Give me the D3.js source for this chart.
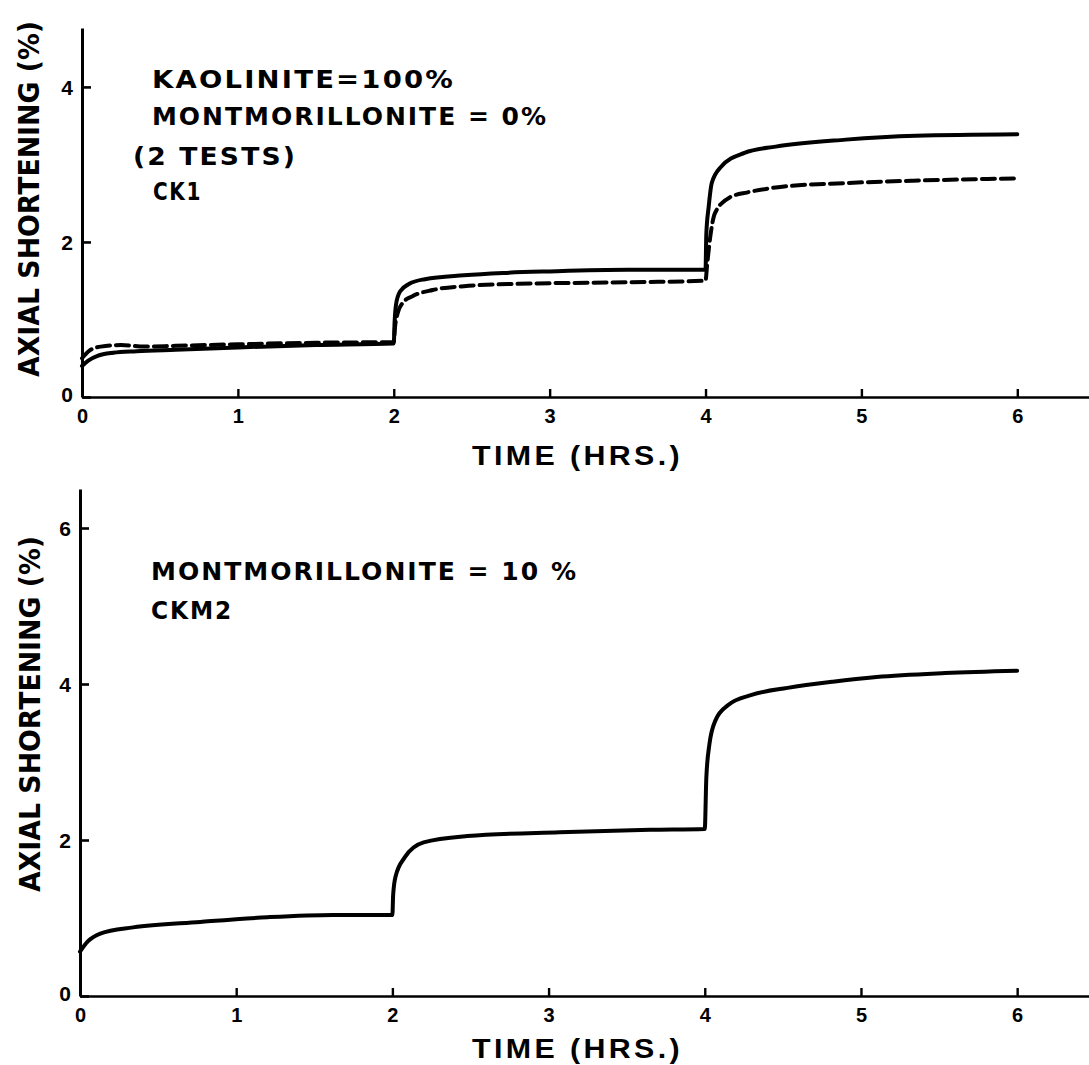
<!DOCTYPE html>
<html>
<head>
<meta charset="utf-8">
<script src="https://cdn.jsdelivr.net/npm/d3@7"></script>
<style>
  html, body { margin: 0; padding: 0; background: #fff; }
  svg { display: block; }
  text { font-family: "DejaVu Sans", "Liberation Sans", Arial, sans-serif; font-weight: bold; fill: #000; }
</style>
</head>
<body>
<svg id="chart" width="1089" height="1065"></svg>
<script>
// Time axis ticks (hours) and shortening ticks (%)
const timeTicks = [0, 1, 2, 3, 4, 5, 6];
const topShortTicks = [0, 2, 4];
const bottomShortTicks = [0, 2, 4, 6];

// CK1, test A (solid line): time (hrs) and axial shortening (%)
const ck1aTime = [0, 0.04, 0.1, 0.2, 0.35, 0.6, 1.0, 1.5, 2.0,
  2.005, 2.015, 2.04, 2.1, 2.2, 2.45, 2.7, 3.0, 3.5, 4.0,
  4.005, 4.02, 4.04, 4.1, 4.25, 4.45, 4.9, 5.35, 6.0];
const ck1aShortening = [0.40, 0.47, 0.53, 0.57, 0.59, 0.61, 0.64, 0.67, 0.69,
  0.95, 1.20, 1.36, 1.46, 1.52, 1.57, 1.60, 1.62, 1.64, 1.64,
  2.10, 2.45, 2.76, 2.97, 3.15, 3.23, 3.32, 3.37, 3.39];

// CK1, test B (dashed line)
const ck1bTime = [0, 0.05, 0.12, 0.25, 0.4, 0.6, 1.0, 1.5, 2.0,
  2.008, 2.025, 2.06, 2.12, 2.25, 2.45, 2.8, 3.5, 4.0,
  4.01, 4.03, 4.06, 4.16, 4.27, 4.48, 4.9, 5.33, 6.0];
const ck1bShortening = [0.50, 0.60, 0.65, 0.67, 0.65, 0.66, 0.68, 0.70, 0.71,
  0.90, 1.08, 1.22, 1.30, 1.38, 1.43, 1.46, 1.48, 1.50,
  1.70, 2.06, 2.37, 2.58, 2.64, 2.71, 2.76, 2.79, 2.82];

// CKM2 (montmorillonite 10 %)
const ckm2Time = [0, 0.05, 0.13, 0.34, 0.77, 1.2, 1.62, 2.0,
  2.005, 2.02, 2.08, 2.2, 2.48, 3.07, 3.65, 4.0,
  4.01, 4.03, 4.07, 4.15, 4.3, 4.53, 4.82, 5.1, 5.54, 6.0];
const ckm2Shortening = [0.57, 0.70, 0.80, 0.88, 0.95, 1.01, 1.04, 1.04,
  1.30, 1.53, 1.78, 1.97, 2.05, 2.10, 2.13, 2.14,
  2.80, 3.23, 3.54, 3.73, 3.86, 3.95, 4.03, 4.09, 4.14, 4.17];

const svg = d3.select("#chart");

function zip(t, v) { return t.map((d, i) => ({ t: d, v: v[i] })); }

function drawPanel(cfg) {
  const x = d3.scaleLinear().domain([0, 6.46]).range(cfg.xRange);
  const y = d3.scaleLinear().domain([0, cfg.yMax]).range(cfg.yRange);
  const g = svg.append("g");

  // x axis
  const xa = g.append("g")
    .attr("transform", `translate(0,${y(0)})`)
    .attr("font-size", 20)
    .call(d3.axisBottom(x).tickValues(timeTicks).tickFormat(d3.format("d"))
      .tickSizeInner(-8).tickSizeOuter(0).tickPadding(12));
  xa.attr("font-size", 20);
  xa.select(".domain").attr("stroke", "#000").attr("stroke-width", 2.6);
  xa.selectAll(".tick line").attr("stroke", "#000").attr("stroke-width", 2.4);
  xa.selectAll(".tick text").style("font-size", "20px").style("font-family", "'Liberation Sans', Arial, sans-serif")
    .attr("fill", "#000");

  // y axis
  const ya = g.append("g")
    .attr("transform", `translate(${x(0)},0)`)
    .call(d3.axisLeft(y).tickValues(cfg.yTicks).tickFormat(d3.format("d"))
      .tickSizeInner(-9).tickSizeOuter(0).tickPadding(9));
  ya.attr("font-size", 21);
  ya.select(".domain").attr("stroke", "#000").attr("stroke-width", 3);
  ya.selectAll(".tick line").attr("stroke", "#000").attr("stroke-width", 2.6);
  ya.selectAll(".tick text").style("font-size", "21px").style("font-family", "'Liberation Sans', Arial, sans-serif")
    .attr("fill", "#000")
    .attr("dy", d => d === 0 ? "0.2em" : "0.35em");

  // series
  const line = d3.line().x(d => x(d.t)).y(d => y(d.v)).curve(d3.curveMonotoneX);
  cfg.series.forEach(s => {
    g.append("path")
      .datum(zip(s.t, s.v))
      .attr("d", line)
      .attr("fill", "none")
      .attr("stroke", "#000")
      .attr("stroke-width", 4)
      .attr("stroke-linecap", "round")
      .attr("stroke-linejoin", "round")
      .attr("stroke-dasharray", s.dash || null);
  });

  // axis titles
  g.append("text")
    .attr("transform", `translate(${cfg.yTitlePos[0]},${cfg.yTitlePos[1]}) rotate(-90)`)
    .attr("text-anchor", "middle")
    .attr("textLength", 356).attr("lengthAdjust", "spacingAndGlyphs")
    .style("font-size", "28px")
    .text("AXIAL  SHORTENING (%)");

  g.append("text")
    .attr("x", 472).attr("y", cfg.xTitleY)
    .attr("textLength", 211).attr("lengthAdjust", "spacingAndGlyphs")
    .style("font-size", "27px")
    .style("font-family", "'Liberation Sans Narrow', 'Liberation Sans', Arial, sans-serif")
    .style("letter-spacing", "3px")
    .text("TIME   (HRS.)");

  // annotations
  cfg.notes.forEach(n => {
    g.append("text")
      .attr("x", n.x).attr("y", n.y)
      .attr("textLength", n.w).attr("lengthAdjust", "spacingAndGlyphs")
      .style("font-size", "25px")
      .style("letter-spacing", "2px")
      .text(n.text);
  });
}

drawPanel({
  xRange: [82, 1089],
  yMax: 4.76, yRange: [397, 28],
  yTicks: topShortTicks,
  yTitlePos: [39, 199],
  xTitleY: 465,
  series: [
    { t: ck1aTime, v: ck1aShortening },
    { t: ck1bTime, v: ck1bShortening, dash: "13,6" }
  ],
  notes: [
    { text: "KAOLINITE=100%", x: 152, y: 88, w: 303 },
    { text: "MONTMORILLONITE = 0%", x: 152, y: 125, w: 396 },
    { text: "(2 TESTS)", x: 133, y: 165, w: 164 },
    { text: "CK1", x: 153, y: 200, w: 49 }
  ]
});

drawPanel({
  xRange: [80, 1089],
  yMax: 6.5, yRange: [996, 489],
  yTicks: bottomShortTicks,
  yTitlePos: [40, 714],
  xTitleY: 1058,
  series: [
    { t: ckm2Time, v: ckm2Shortening }
  ],
  notes: [
    { text: "MONTMORILLONITE = 10 %", x: 151, y: 580, w: 427 },
    { text: "CKM2", x: 151, y: 619, w: 82 }
  ]
});
</script>
</body>
</html>
